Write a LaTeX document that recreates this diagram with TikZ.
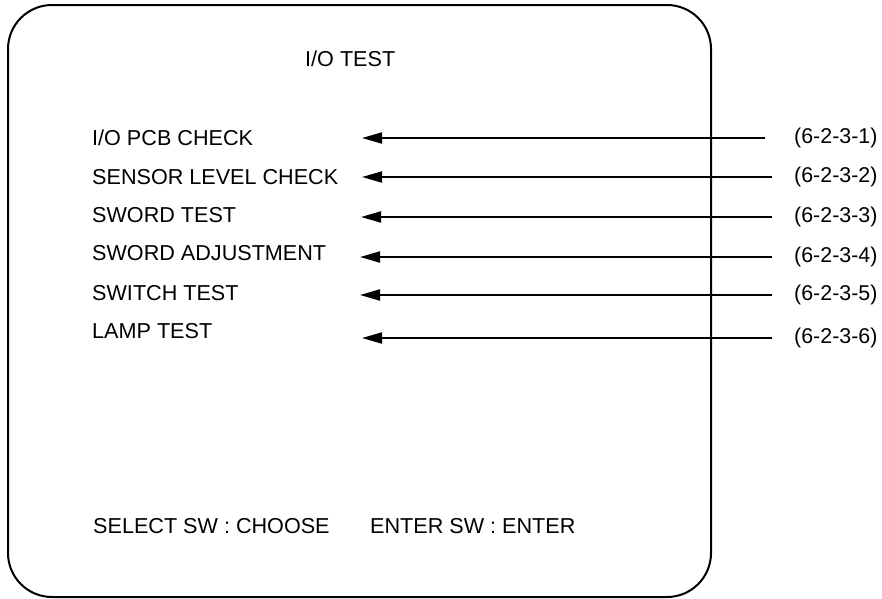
\documentclass[tikz,border=0pt]{standalone}
\usepackage{fontspec}
\setmainfont{Liberation Sans}
\usetikzlibrary{arrows.meta}
\tikzset{
  frame/.style={line width=2pt, rounded corners=44pt},
  menu/.style={anchor=base west, inner sep=0pt, font=\fontsize{21.6pt}{26pt}\selectfont},
  ref/.style={anchor=west, inner sep=0pt, font=\fontsize{21.4pt}{26pt}\selectfont},
  ptr/.style={line width=2pt, -{Triangle[length=20pt,width=11pt]}}
}
\begin{document}
\begin{tikzpicture}[x=1pt,y=-1pt]
\useasboundingbox (0,0) rectangle (882,598);
\draw[frame] (8,5) rectangle (711,597);
\node[menu] (title) at (305,66) {I/O TEST};
\node[menu] (m1) at (92,145) {I/O PCB CHECK};
\node[menu] (m2) at (92,184) {SENSOR LEVEL CHECK};
\node[menu] (m3) at (92,222) {SWORD TEST};
\node[menu] (m4) at (92,260) {SWORD ADJUSTMENT};
\node[menu] (m5) at (92,300) {SWITCH TEST};
\node[menu] (m6) at (92,338) {LAMP TEST};
\node[menu] (sel) at (93,533) {SELECT SW : CHOOSE};
\node[menu] (ent) at (370,533) {ENTER SW : ENTER};
\node[ref] (r1) at (794,138) {(6-2-3-1)};
\node[ref] (r2) at (794,177) {(6-2-3-2)};
\node[ref] (r3) at (794,217) {(6-2-3-3)};
\node[ref] (r4) at (794,257) {(6-2-3-4)};
\node[ref] (r5) at (794,295) {(6-2-3-5)};
\node[ref] (r6) at (794,338) {(6-2-3-6)};
\coordinate (s1) at (765,138); \coordinate (t1) at (362,138);
\coordinate (s2) at (772,177); \coordinate (t2) at (362,177);
\coordinate (s3) at (772,217); \coordinate (t3) at (361,217);
\coordinate (s4) at (772,257); \coordinate (t4) at (360,257);
\coordinate (s5) at (772,295); \coordinate (t5) at (360,295);
\coordinate (s6) at (772,338); \coordinate (t6) at (362,338);
\foreach \i in {1,...,6} \draw[ptr] (s\i) -- (t\i);
\end{tikzpicture}
\end{document}
